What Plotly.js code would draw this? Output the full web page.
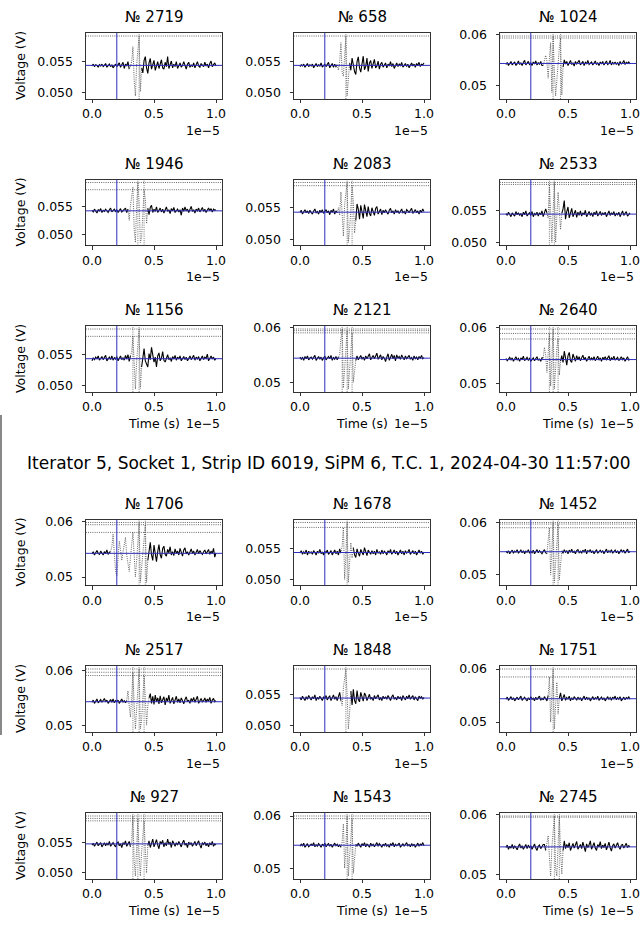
<!DOCTYPE html>
<html><head><meta charset="utf-8">
<script src="https://cdn.plot.ly/plotly-3.0.1.min.js"></script>
<style>html,body{margin:0;padding:0;background:#fff}#chart{width:644px;height:927px}</style>
</head><body><div id="chart"></div>
<script>
// time axis, microseconds
const TIME_US = [0,0.1,0.2,0.3,0.4,0.5,0.6,0.7,0.8,0.9,1,1.1,1.2,1.3,1.4,1.5,1.6,1.7,1.8,1.9,2,2.1,2.2,2.3,2.4,2.5,2.6,2.7,2.8,2.9,3,3.1,3.2,3.3,3.4,3.5,3.6,3.7,3.8,3.9,4,4.1,4.2,4.3,4.4,4.5,4.6,4.7,4.8,4.9,5,5.1,5.2,5.3,5.4,5.5,5.6,5.7,5.8,5.9,6,6.1,6.2,6.3,6.4,6.5,6.6,6.7,6.8,6.9,7,7.1,7.2,7.3,7.4,7.5,7.6,7.7,7.8,7.9,8,8.1,8.2,8.3,8.4,8.5,8.6,8.7,8.8,8.9,9,9.1,9.2,9.3,9.4,9.5,9.6,9.7,9.8,9.9,10];

const SUPTITLE = "Iterator 5, Socket 1, Strip ID 6019, SiPM 6, T.C. 1, 2024-04-30 11:57:00";
const EVENT_IDS = [2719,658,1024,1946,2083,2533,1156,2121,2640,1706,1678,1452,2517,1848,1751,927,1543,2745];
const X_TICK_LABELS = ["0.0","0.5","1.0"];
const TRIGGER_US = 2.0;

// waveforms, millivolts
const wf2719 = [54.3,54.6,54.2,54.5,54.4,54.1,54.5,54.3,54.6,54.2, 54.4,54.7,54.1,54.3,54.6,54.2,54.5,54.0,54.4,54.6, 54.2,54.5,54.8,54.1,54.4,54.9,53.9,54.6,54.3,55.0, 53.8,54.2,55.0,57.4,52.0,49.5,54.5,57.0,59.1,50.2, 54.0,53.2,55.2,55.8,54.0,53.1,54.8,55.5,53.8,54.6, 55.2,53.6,54.3,55.0,53.9,54.6,55.3,54.0,53.8,54.9, 54.2,55.8,53.9,54.5,55.1,54.0,54.6,54.2,55.0,53.9, 54.5,54.8,54.1,54.4,55.0,54.2,53.8,54.6,54.9,54.1, 54.5,54.2,54.8,54.0,54.6,55.0,54.3,54.1,54.7,54.4, 54.2,54.9,54.3,54.6,54.0,54.7,55.1,54.2,54.5,54.8,54.3];
const wf658 = [54.2,54.5,54.3,54.6,54.1,54.4,54.7,54.2,54.5,54.3, 54.6,54.0,54.4,54.7,54.2,54.5,54.3,54.8,54.1,54.4, 54.6,54.2,54.5,54.9,54.0,54.3,54.7,54.1,54.6,54.2, 54.5,53.6,55.0,58.1,53.2,52.6,56.0,59.2,49.4,53.0, 54.8,53.6,55.6,54.2,53.4,52.9,55.0,55.8,54.0,53.3, 54.6,55.9,53.7,54.2,55.6,53.4,54.8,55.2,53.9,54.5, 55.4,54.0,54.3,55.1,53.8,54.6,54.9,54.1,54.5,54.8, 54.0,54.6,54.3,55.0,54.2,54.7,53.9,54.5,54.8,54.2, 54.6,54.3,54.9,54.1,54.5,54.7,54.2,54.6,54.0,54.4, 54.8,54.3,54.6,54.1,54.7,54.4,54.9,54.2,54.6,54.5,54.8];
const wf1024 = [54.2,54.6,54.0,54.5,54.8,54.1,54.4,54.7,54.0,54.3, 54.9,54.2,54.5,54.0,54.6,55.0,54.1,54.4,54.8,54.2, 54.5,54.0,54.7,54.3,54.9,54.1,54.6,54.2,54.8,54.0, 54.0,55.2,56.0,54.8,51.5,55.5,58.5,48.7,59.8,53.0, 48.0,51.0,55.0,57.5,59.4,48.2,53.7,55.1,54.3,54.8, 54.0,54.6,55.0,54.2,54.5,53.9,54.8,54.3,54.6,55.0, 54.1,54.5,54.8,54.0,54.6,54.3,55.0,54.2,54.4,54.7, 54.1,54.6,54.9,54.2,54.5,54.0,54.7,54.3,54.8,54.1, 54.5,54.9,54.2,54.4,55.0,54.1,54.6,54.3,54.7,54.2, 54.6,54.0,54.8,54.3,54.5,55.0,54.2,54.6,54.4,54.7,54.3];
const wf1946 = [54.4,54.1,54.6,54.2,53.9,54.5,54.3,54.7,54.0,54.4, 54.2,54.6,54.3,54.0,54.5,54.8,54.1,54.3,54.6,54.2, 54.5,54.0,54.4,54.7,54.1,54.3,54.6,54.8,54.0,54.6, 52.6,55.2,57.0,58.6,51.0,48.6,55.0,59.4,56.0,48.6, 49.5,54.0,58.1,56.5,52.0,54.8,53.6,54.9,55.3,54.0, 54.6,54.2,55.0,54.0,54.5,54.8,54.1,54.6,53.9,54.4, 55.0,54.2,54.5,53.8,54.7,54.3,54.9,54.0,54.4,54.6, 54.1,54.5,53.5,54.8,54.2,55.0,54.3,54.6,54.0,54.7, 55.1,54.2,54.5,53.9,54.6,54.3,54.8,54.1,54.5,54.9, 54.2,54.6,54.0,54.5,54.8,54.3,54.7,54.1,54.6,54.4,54.5];
const wf2083 = [54.3,54.6,54.0,54.4,54.7,54.2,54.5,54.1,54.6,54.3, 54.0,54.5,54.8,54.2,54.4,54.0,54.6,54.3,54.7,54.1, 54.4,54.7,54.2,54.5,53.9,54.6,54.3,54.8,54.0,54.5, 54.2,55.0,53.8,57.5,54.0,50.5,55.5,57.8,59.0,49.5, 51.5,55.0,58.5,56.0,51.0,53.0,55.6,54.8,53.2,55.4, 54.0,53.3,55.5,54.6,53.6,55.2,54.1,53.7,55.0,54.4, 53.8,54.9,55.2,54.0,54.3,54.8,53.9,54.6,54.2,54.7, 54.3,54.0,54.6,54.9,54.2,54.5,54.0,54.7,54.3,54.5, 54.1,54.6,54.8,54.2,54.4,54.0,54.7,54.5,54.2,54.6, 54.9,54.1,54.4,54.7,54.2,54.5,54.0,54.6,54.3,54.8,54.4];
const wf2533 = [54.5,54.2,54.7,54.3,54.0,54.6,54.4,54.1,54.8,54.3, 54.6,54.2,54.5,54.0,54.7,54.3,54.9,54.1,54.4,54.6, 54.2,54.8,54.0,54.5,54.3,54.7,54.1,54.6,54.3,54.9, 54.0,54.5,55.2,54.6,53.8,59.0,53.0,50.0,55.0,59.3, 50.0,53.5,57.8,55.0,52.0,54.5,55.2,56.5,53.6,54.8, 55.5,53.8,54.6,55.3,54.0,54.5,55.0,53.9,54.7,54.2, 54.9,54.1,54.6,54.3,55.0,54.0,54.5,54.8,54.2,54.6, 54.0,54.7,54.3,54.9,54.1,54.5,54.8,54.2,54.6,54.3, 54.7,54.0,54.5,54.9,54.2,54.6,54.3,54.8,54.1,54.5, 54.3,54.7,54.0,54.6,54.9,54.2,54.5,54.8,54.1,54.4,54.6];
const wf1156 = [54.0,54.5,54.2,54.6,54.3,54.8,54.1,54.4,54.7,54.2, 54.5,54.9,54.0,54.3,54.6,54.2,54.8,54.1,54.5,54.3, 54.7,54.0,54.4,54.8,54.2,54.5,54.1,54.9,54.3,55.0, 53.9,54.8,55.5,58.0,52.0,49.4,54.0,57.0,59.2,49.5, 53.0,55.0,56.0,54.0,53.6,53.0,55.2,54.2,56.2,54.5, 53.8,54.6,53.0,54.8,55.3,54.0,54.4,55.5,54.1,53.8, 54.6,55.0,54.2,54.5,53.9,54.7,54.3,54.9,54.1,54.6, 54.3,54.8,54.0,54.5,54.7,54.2,54.6,54.0,54.4,54.8, 54.2,54.5,54.9,54.1,54.6,54.3,54.7,54.0,54.5,54.8, 54.2,54.6,54.4,55.1,54.0,54.5,54.8,54.3,54.6,54.1,54.4];
const wf2121 = [54.6,54.2,54.5,54.0,54.7,54.3,54.8,54.1,54.4,54.6, 54.2,54.5,54.9,54.0,54.3,54.7,54.2,54.6,54.0,54.5, 54.8,54.1,54.4,54.7,54.3,54.9,54.0,54.5,54.2,54.7, 54.1,54.6,55.0,58.0,59.7,49.0,53.0,57.0,59.4,48.8, 52.0,56.0,59.0,50.0,52.5,54.0,54.8,54.1,54.5,54.9, 54.2,54.6,54.0,54.8,54.3,54.7,55.2,54.1,54.5,54.9, 54.3,54.8,55.3,54.2,54.6,55.0,54.1,54.7,54.4,53.8, 54.6,55.2,54.0,54.8,55.1,54.3,54.9,53.9,55.0,54.4, 54.7,54.2,55.0,54.5,54.1,54.8,54.3,54.6,54.9,54.2, 54.5,54.0,54.8,54.3,54.6,54.1,54.7,54.4,54.9,54.3,54.5];
const wf2640 = [54.5,54.1,54.4,54.7,54.2,54.6,54.0,54.3,54.8,54.2, 54.5,54.0,54.6,54.3,54.9,54.1,54.4,54.7,54.2,54.5, 54.0,54.3,54.6,54.1,54.5,54.8,54.2,54.4,54.0,54.6, 54.6,56.5,55.0,52.0,55.5,59.0,49.5,54.0,59.8,49.0, 53.5,56.5,58.0,51.5,54.0,55.0,53.8,55.8,54.6,53.3, 55.0,55.6,54.1,53.8,55.3,54.6,54.0,55.0,54.3,54.8, 54.1,54.6,55.1,54.3,54.7,54.0,54.5,54.9,54.2,54.6, 54.3,54.8,54.1,54.5,54.9,54.2,54.6,54.0,54.7,54.4, 54.8,54.2,54.5,55.0,54.1,54.6,54.3,54.9,54.2,54.5, 54.7,54.1,54.4,54.8,54.3,54.6,54.0,54.5,54.8,54.2,54.4];
const wf1706 = [54.2,54.6,54.0,54.5,54.8,54.3,54.1,54.7,54.4,54.0, 54.6,54.3,54.9,54.1,54.5,54.6,55.5,57.8,54.0,51.0, 50.2,54.0,56.5,55.0,53.0,54.5,56.0,57.2,54.0,52.0, 51.0,53.5,56.5,58.1,54.0,50.0,53.0,57.5,59.9,49.0, 51.5,55.0,58.0,59.5,49.0,53.0,55.0,56.3,54.0,53.0, 55.8,54.5,52.8,54.6,55.9,54.0,53.4,55.2,55.6,54.1, 53.8,55.0,54.4,55.5,54.0,54.6,53.9,55.1,54.3,54.7, 54.0,55.2,54.5,53.8,54.9,55.3,54.2,54.6,54.0,54.8, 55.1,54.3,54.7,54.0,54.5,55.0,54.2,54.8,54.4,54.1, 54.6,54.9,54.2,54.5,55.0,54.1,54.7,54.3,55.2,53.6,54.4];
const wf1678 = [54.3,54.7,54.1,54.5,54.2,54.8,54.0,54.6,54.3,54.5, 54.1,54.7,54.4,54.0,54.6,54.3,54.9,54.2,54.5,54.0, 54.6,54.3,54.8,54.1,54.4,54.7,54.0,54.5,54.8,54.2, 54.6,54.0,55.0,54.3,55.5,58.5,50.0,54.0,59.3,49.5, 53.0,56.0,53.5,55.2,54.0,53.6,55.0,54.3,53.8,54.9, 54.5,54.0,55.2,54.3,53.9,54.8,54.5,54.1,54.7,54.2, 54.6,54.0,54.9,54.3,54.5,54.1,54.8,54.2,54.6,54.4, 54.0,54.7,54.3,54.9,54.1,54.5,54.8,54.2,54.6,54.0, 54.5,54.8,54.2,54.6,54.0,54.7,54.3,54.5,54.9,54.1, 54.4,54.7,54.2,54.6,54.0,54.5,54.8,54.3,54.6,54.1,54.5];
const wf1452 = [54.5,54.2,54.6,54.0,54.4,54.7,54.1,54.5,54.3,54.8, 54.1,54.4,54.7,54.2,54.6,54.0,54.5,54.3,54.8,54.1, 54.5,54.2,54.7,54.0,54.4,54.8,54.2,54.6,54.3,54.0, 54.5,54.8,54.2,54.0,56.0,59.0,50.0,54.5,60.0,48.5, 52.0,56.5,59.7,49.0,53.0,54.6,54.1,54.8,54.3,54.6, 54.0,54.7,54.3,54.9,54.2,54.5,54.0,54.6,54.8,54.2, 54.5,54.1,54.7,54.3,54.9,54.0,54.6,54.4,54.8,54.2, 54.6,54.0,54.5,54.8,54.1,54.4,54.7,54.3,54.6,54.0, 54.5,54.9,54.2,54.6,54.3,54.8,54.1,54.5,54.7,54.2, 54.6,54.0,54.4,54.8,54.3,54.7,54.1,54.5,54.9,54.2,54.5];
const wf2517 = [54.2,54.6,54.0,54.5,54.8,54.1,54.4,54.7,54.2,54.5, 54.9,54.3,54.6,54.0,54.4,54.7,54.2,54.8,54.1,54.5, 54.3,54.6,54.0,54.4,54.8,54.2,54.5,54.1,54.5,56.3, 53.5,51.5,55.0,59.7,54.0,49.3,53.0,57.5,60.3,49.3, 51.0,55.0,59.1,55.0,50.0,53.5,55.0,55.8,54.0,55.3, 53.8,55.5,54.3,55.0,53.9,55.4,54.1,54.8,55.2,53.7, 55.0,54.4,55.5,54.0,54.7,55.1,53.9,54.6,55.3,54.2, 54.8,54.1,55.0,54.5,53.9,54.7,55.2,54.3,54.6,54.0, 54.9,54.4,55.1,54.2,54.7,55.3,54.0,54.6,54.9,54.3, 54.5,55.0,54.2,54.8,54.4,55.1,54.0,54.6,54.9,54.3,54.5];
const wf1848 = [54.5,54.1,54.7,54.3,54.0,54.6,54.2,54.8,54.4,54.1, 54.6,54.3,54.9,54.0,54.5,54.2,54.7,54.4,54.0,54.6, 54.3,54.8,54.1,54.5,54.7,54.0,54.4,54.9,54.2,54.6, 54.0,54.5,55.3,54.0,53.2,56.0,57.5,59.0,55.0,49.5, 52.0,55.5,53.3,55.8,54.0,53.5,55.6,54.2,53.8,55.3, 54.5,53.9,55.2,54.8,54.0,54.6,55.0,54.2,54.5,54.0, 54.8,54.3,54.6,54.9,54.1,54.5,54.0,54.7,54.3,54.6, 54.2,54.8,54.4,54.0,54.6,54.9,54.2,54.5,54.1,54.7, 54.3,54.6,54.0,54.8,54.4,54.1,54.7,54.3,54.9,54.2, 54.5,54.8,54.1,54.6,54.3,54.0,54.7,54.4,54.6,54.2,54.5];
const wf1751 = [54.3,54.7,54.1,54.5,54.8,54.2,54.6,54.0,54.4,54.7, 54.2,54.5,54.9,54.1,54.4,54.7,54.3,54.0,54.6,54.2, 54.8,54.3,54.5,54.0,54.7,54.2,54.6,54.9,54.1,54.5, 54.2,54.8,54.4,54.0,55.0,58.5,50.0,54.0,60.0,48.7, 53.0,57.5,51.5,54.5,55.5,54.0,54.8,55.2,54.1,54.6, 54.3,54.9,54.0,54.6,54.2,54.8,54.5,54.1,54.7,54.3, 54.6,54.0,54.5,54.9,54.2,54.7,54.3,54.6,54.0,54.5, 54.8,54.2,54.6,54.3,54.9,54.1,54.5,54.7,54.2,54.6, 54.0,54.4,54.8,54.3,54.6,54.1,54.7,54.4,54.9,54.2, 54.6,54.3,54.8,54.0,54.5,54.7,54.2,54.6,54.4,54.8,54.3];
const wf927 = [54.6,54.9,54.4,54.8,55.1,54.5,54.7,55.0,54.3,54.8, 55.0,54.5,54.9,54.6,55.2,54.4,54.8,55.0,54.6,54.3, 54.9,55.1,54.5,54.8,54.2,55.0,54.7,55.3,54.4,54.9, 55.2,54.3,55.5,59.4,52.0,49.5,55.0,59.0,53.0,49.5, 53.5,57.0,58.6,54.0,50.0,54.5,55.3,54.2,55.0,55.6, 54.3,54.9,55.5,54.6,54.0,55.2,54.8,55.4,54.3,55.0, 54.5,55.6,54.7,55.1,54.2,55.3,54.9,54.4,55.0,54.6, 55.2,54.8,54.3,55.0,55.4,54.6,54.9,54.2,55.1,54.7, 55.0,54.4,54.8,55.2,54.5,54.9,55.3,54.6,54.1,55.0, 54.7,55.1,54.5,54.9,54.3,55.0,54.6,55.2,54.4,54.8,54.6];
const wf1543 = [54.2,54.6,54.3,54.8,54.0,54.5,54.7,54.1,54.4,54.6, 54.3,54.9,54.1,54.5,54.2,54.7,54.4,54.0,54.6,54.3, 54.8,54.1,54.5,54.7,54.2,54.6,54.0,54.4,54.8,54.3, 54.6,54.1,54.5,54.0,55.0,58.5,50.0,54.0,60.0,48.5, 52.0,56.0,59.5,49.0,53.0,54.6,54.2,54.8,54.4,54.0, 54.7,54.3,54.9,54.1,54.6,54.4,54.0,54.8,54.3,54.6, 54.1,54.5,54.9,54.2,54.7,54.4,54.0,54.6,54.3,54.8, 54.2,54.5,54.0,54.7,54.4,54.9,54.1,54.6,54.3,54.5, 54.8,54.0,54.4,54.7,54.2,54.6,54.9,54.3,54.5,54.1, 54.7,54.3,54.6,54.0,54.5,54.8,54.2,54.6,54.4,54.9,54.3];
const wf2745 = [54.5,54.9,54.2,54.7,54.4,55.0,54.3,54.8,54.5,54.1, 54.7,55.1,54.4,54.8,54.2,54.6,55.0,54.3,54.9,54.5, 54.8,54.2,54.6,55.1,54.4,54.0,54.7,54.9,54.3,54.6, 55.0,55.0,54.0,55.5,56.5,53.0,49.7,54.5,58.0,59.8, 51.0,49.7,55.0,59.8,54.0,50.0,54.0,55.6,54.3,55.0, 54.5,55.3,54.0,54.8,55.2,54.4,54.9,55.5,54.2,54.7, 55.0,54.3,55.4,54.6,53.8,55.1,54.5,54.9,55.6,54.2, 54.8,55.3,54.4,54.0,55.0,54.6,55.5,54.3,54.9,54.5, 55.2,54.1,54.7,55.4,54.5,53.9,54.8,55.1,54.4,54.9, 55.3,54.6,54.2,54.9,55.0,54.4,54.7,55.2,54.5,54.8,54.6];

const WAVEFORMS = [wf2719,wf658,wf1024,wf1946,wf2083,wf2533,wf1156,wf2121,wf2640,wf1706,wf1678,wf1452,wf2517,wf1848,wf1751,wf927,wf1543,wf2745];
// pulse window [start, end] in microseconds (drawn dotted grey)
const PULSE_START_US = [3.0,3.0,3.0,2.9,3.0,3.3,3.1,3.1,3.0,1.5,3.3,3.3,2.8,3.3,3.4,3.1,3.3,3.2];
const PULSE_END_US   = [4.0,4.0,4.6,4.5,4.5,4.5,4.0,4.5,4.4,4.5,4.3,4.5,4.6,4.1,4.3,4.5,4.5,4.6];
// peak times (us) and peak levels (mV)
const PEAK_TIMES_US = [[3.8],[3.7],[3.8,4.4],[3.7,4.2],[3.8,4.2],[3.5,3.9],[3.3,3.8],[3.4,3.8,4.2],[3.5,3.8,4.2],[3.8,4.3],[3.8],[3.8,4.2],[3.3,3.8,4.2],[3.7],[3.8],[3.3,3.7,4.2],[3.8,4.2],[3.9,4.3]];
const PEAK_LEVELS_MV = [[59.1],[59.2],[59.8,59.4],[59.4,58.1],[59.0,58.5],[59.3,59.0],[59.2,58.0],[59.7,59.4,59.0],[59.8,59.0,58.0],[59.9,59.5,58.1],[59.3,58.5],[60.0,59.7,59.0],[60.3,59.7,59.1],[59.0],[60.0,58.5],[59.4,59.0,58.6],[60.0,59.5],[59.8,59.6]];
const BASELINE_MV = [54.4,54.4,54.4,54.3,54.3,54.4,54.35,54.4,54.3,54.3,54.4,54.4,54.3,54.4,54.4,54.8,54.4,54.6];

// ---------- layout geometry (pixels) ----------
const W = 644, H = 927;
const COLS = [[85.8,222.2],[293.8,430.2],[499.8,636.2]];
const ROWS = [[33,99],[179.5,245.5],[326,392],[519.5,585.5],[666,732],[813,879]];
const FONT = "DejaVu Sans";
const BLUE = "rgb(45,45,190)";
const DOT = "1px,1.2px";

const data = [], shapes = [], annotations = [];
const layout = {width:W,height:H,margin:{l:0,r:0,t:0,b:0},paper_bgcolor:"#fff",plot_bgcolor:"#fff",showlegend:false,font:{family:FONT,color:"#000"}};

EVENT_IDS.forEach((id, i) => {
  const r = Math.floor(i/3), c = i%3;
  const n = i+1;
  const xa = "x"+(n===1?"":n), ya = "y"+(n===1?"":n);
  const xk = "xaxis"+(n===1?"":n), yk = "yaxis"+(n===1?"":n);
  const [xl, xr] = COLS[c], [yt, yb] = ROWS[r];
  const wf = WAVEFORMS[i];
  const t = TIME_US.map(v => v*1e-6);
  const v = wf.map(m => m/1000);
  const s = Math.round(PULSE_START_US[i]*10), e = Math.round(PULSE_END_US[i]*10);
  const blk = v.map((val,k) => { const kk = Math.round(TIME_US[k]*10); return (kk<=s || kk>=e) ? val : null; });
  const gry = v.map((val,k) => { const kk = Math.round(TIME_US[k]*10); return (kk>=s && kk<=e) ? val : null; });
  data.push({x:t,y:blk,xaxis:xa,yaxis:ya,type:"scatter",mode:"lines",line:{color:"#000",width:1.1},connectgaps:false,hoverinfo:"skip"});
  data.push({x:t,y:gry,xaxis:xa,yaxis:ya,type:"scatter",mode:"lines",line:{color:"#555",width:0.9,dash:DOT},connectgaps:false,hoverinfo:"skip"});

  const lv = PEAK_LEVELS_MV[i].map(m => m/1000);
  const all = v.concat(lv);
  const mn = Math.min(...all), mx = Math.max(...all), sp = mx-mn;
  const yr = [mn-0.05*sp, mx+0.05*sp];
  const big = (yr[0] < 0.06 && yr[1] > 0.06);
  const timeRow = (r===2 || r===5);

  layout[xk] = {domain:[xl/W, xr/W], anchor:ya, range:[-0.5e-6,10.5e-6], tickmode:"array", tickvals:[0,5e-6,1e-5], ticktext:X_TICK_LABELS,
    ticks:"outside", ticklen:3.5, tickwidth:0.8, tickcolor:"#000", showline:true, mirror:true, linecolor:"#000", linewidth:0.8,
    showgrid:false, zeroline:false, tickfont:{family:FONT,size:12.5,color:"#000"}, fixedrange:true};
  layout[yk] = {domain:[1-yb/H, 1-yt/H], anchor:xa, range:yr, tickmode:"linear", tick0:0, dtick: big?0.01:0.005, tickformat: big?".2f":".3f",
    ticks:"outside", ticklen:3.5, tickwidth:0.8, tickcolor:"#000", showline:true, mirror:true, linecolor:"#000", linewidth:0.8,
    showgrid:false, zeroline:false, tickfont:{family:FONT,size:12.5,color:"#000"}, ticklabelstandoff:6, fixedrange:true};

  // level lines (horizontal dotted) and peak-time lines (vertical dotted)
  lv.forEach(L => shapes.push({type:"line",xref:xa+" domain",yref:ya,x0:0,x1:1,y0:L,y1:L,line:{color:"#444",width:0.8,dash:DOT}}));
  PEAK_TIMES_US[i].forEach(T => shapes.push({type:"line",xref:xa,yref:ya+" domain",x0:T*1e-6,x1:T*1e-6,y0:0,y1:1,line:{color:"#555",width:0.8,dash:DOT}}));
  // trigger (vertical blue) and baseline (horizontal blue)
  shapes.push({type:"line",xref:xa,yref:ya+" domain",x0:TRIGGER_US*1e-6,x1:TRIGGER_US*1e-6,y0:0,y1:1,line:{color:BLUE,width:1}});
  shapes.push({type:"line",xref:xa+" domain",yref:ya,x0:0,x1:1,y0:BASELINE_MV[i]/1000,y1:BASELINE_MV[i]/1000,line:{color:BLUE,width:1}});

  // subplot title
  annotations.push({text:"№ "+id,xref:"paper",yref:"paper",x:(xl+xr)/2/W,y:1-yt/H,xanchor:"center",yanchor:"bottom",yshift:5,showarrow:false,font:{family:FONT,size:15,color:"#000"}});
  // offset text
  annotations.push({text:"1e−5",xref:"paper",yref:"paper",x:xr/W,y:1-(yb+31)/H,xanchor:"right",yanchor:"middle",showarrow:false,font:{family:FONT,size:12.5,color:"#000"}});
  if (c===0) annotations.push({text:"Voltage (V)",textangle:-90,xref:"paper",yref:"paper",x:20/W,y:1-(yt+yb)/2/H,xanchor:"center",yanchor:"middle",showarrow:false,font:{family:FONT,size:12.5,color:"#000"}});
  if (timeRow) annotations.push({text:"Time (s)",xref:"paper",yref:"paper",x:(xl+xr)/2/W,y:1-(yb+31)/H,xanchor:"center",yanchor:"middle",showarrow:false,font:{family:FONT,size:12.5,color:"#000"}});
});

annotations.push({text:SUPTITLE,xref:"paper",yref:"paper",x:329/W,y:1-463/H,xanchor:"center",yanchor:"middle",showarrow:false,font:{family:FONT,size:17,color:"#000"}});
// thin grey edge bar at the left border
shapes.push({type:"line",xref:"paper",yref:"paper",x0:1/W,x1:1/W,y0:1-415/H,y1:1-735/H,line:{color:"#888",width:2}});

layout.shapes = shapes;
layout.annotations = annotations;
Plotly.newPlot("chart", data, layout, {displayModeBar:false, staticPlot:true});
</script>
</body></html>
